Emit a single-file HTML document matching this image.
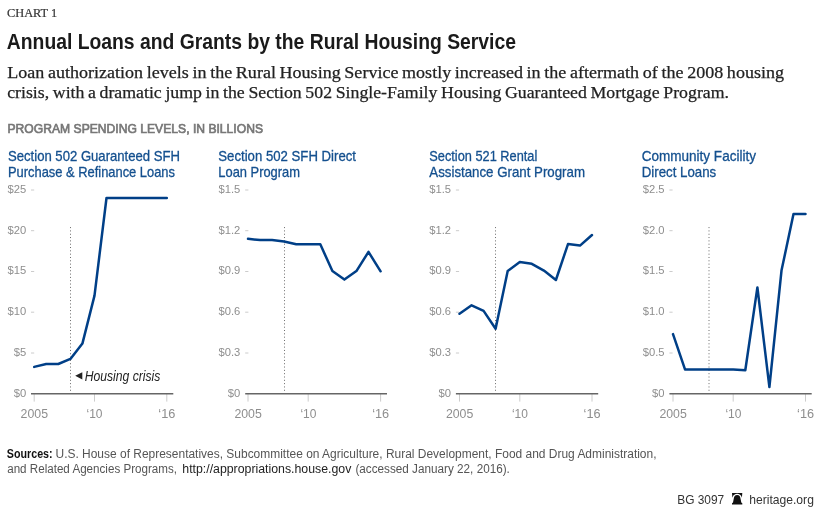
<!DOCTYPE html>
<html><head><meta charset="utf-8"><title>Chart 1</title>
<style>html,body{margin:0;padding:0;background:#fff}svg{display:block;will-change:transform}text{white-space:pre}</style>
</head><body>
<svg width="825" height="510" viewBox="0 0 825 510">
<rect width="825" height="510" fill="#ffffff"/>
<text x="7" y="17" font-family="'Liberation Serif', serif" font-size="12.8" fill="#333" stroke="#333" stroke-width="0.2" textLength="50.2" lengthAdjust="spacingAndGlyphs">CHART 1</text>
<text x="6.8" y="49" font-family="'Liberation Sans', sans-serif" font-size="21.5" fill="#1a1a1a" font-weight="bold" textLength="509.2" lengthAdjust="spacingAndGlyphs">Annual Loans and Grants by the Rural Housing Service</text>
<text x="7.2" y="78" font-family="'Liberation Serif', serif" font-size="17.4" fill="#222" word-spacing="-0.8" stroke="#222" stroke-width="0.25" textLength="776.8" lengthAdjust="spacingAndGlyphs">Loan authorization levels in the Rural Housing Service mostly increased in the aftermath of the 2008 housing</text>
<text x="7.2" y="98" font-family="'Liberation Serif', serif" font-size="17.4" fill="#222" word-spacing="-0.8" stroke="#222" stroke-width="0.25" textLength="721.8" lengthAdjust="spacingAndGlyphs">crisis, with a dramatic jump in the Section 502 Single-Family Housing Guaranteed Mortgage Program.</text>
<text x="7.5" y="133" font-family="'Liberation Sans', sans-serif" font-size="13.2" fill="#777" stroke="#777" stroke-width="0.7" textLength="255.5" lengthAdjust="spacingAndGlyphs">PROGRAM SPENDING LEVELS, IN BILLIONS</text>
<text x="8" y="161" font-family="'Liberation Sans', sans-serif" font-size="14.1" fill="#14508f" stroke="#14508f" stroke-width="0.3" textLength="172" lengthAdjust="spacingAndGlyphs">Section 502 Guaranteed SFH</text>
<text x="8" y="177" font-family="'Liberation Sans', sans-serif" font-size="14.1" fill="#14508f" stroke="#14508f" stroke-width="0.3" textLength="167" lengthAdjust="spacingAndGlyphs">Purchase &amp; Refinance Loans</text>
<text x="13.7" y="397" font-family="'Liberation Sans', sans-serif" font-size="11.8" fill="#8e8e8e" textLength="12.5" lengthAdjust="spacingAndGlyphs">$0</text>
<text x="13.7" y="356" font-family="'Liberation Sans', sans-serif" font-size="11.8" fill="#8e8e8e" textLength="12.5" lengthAdjust="spacingAndGlyphs">$5</text>
<line x1="31" y1="353.0" x2="34.2" y2="353.0" stroke="#cccccc" stroke-width="1"/>
<text x="7.5" y="315" font-family="'Liberation Sans', sans-serif" font-size="11.8" fill="#8e8e8e" textLength="18.7" lengthAdjust="spacingAndGlyphs">$10</text>
<line x1="31" y1="312.2" x2="34.2" y2="312.2" stroke="#cccccc" stroke-width="1"/>
<text x="7.5" y="274" font-family="'Liberation Sans', sans-serif" font-size="11.8" fill="#8e8e8e" textLength="18.7" lengthAdjust="spacingAndGlyphs">$15</text>
<line x1="31" y1="271.5" x2="34.2" y2="271.5" stroke="#cccccc" stroke-width="1"/>
<text x="7.5" y="234" font-family="'Liberation Sans', sans-serif" font-size="11.8" fill="#8e8e8e" textLength="18.7" lengthAdjust="spacingAndGlyphs">$20</text>
<line x1="31" y1="230.7" x2="34.2" y2="230.7" stroke="#cccccc" stroke-width="1"/>
<text x="7.5" y="193" font-family="'Liberation Sans', sans-serif" font-size="11.8" fill="#8e8e8e" textLength="18.7" lengthAdjust="spacingAndGlyphs">$25</text>
<line x1="31" y1="190.0" x2="34.2" y2="190.0" stroke="#cccccc" stroke-width="1"/>
<line x1="70.5" y1="227.1" x2="70.5" y2="393.7" stroke="#6a6a6a" stroke-width="1" stroke-dasharray="1 2.32"/>
<line x1="34.2" y1="393.7" x2="34.2" y2="401.6" stroke="#cccccc" stroke-width="1"/>
<text x="34.3" y="417.5" font-family="'Liberation Sans', sans-serif" font-size="13" fill="#8e8e8e" text-anchor="middle" textLength="27.4" lengthAdjust="spacingAndGlyphs">2005</text>
<line x1="94.5" y1="393.7" x2="94.5" y2="401.6" stroke="#cccccc" stroke-width="1"/>
<text x="94.5" y="417.5" font-family="'Liberation Sans', sans-serif" font-size="13" fill="#8e8e8e" text-anchor="middle" textLength="16" lengthAdjust="spacingAndGlyphs">‘10</text>
<line x1="166.8" y1="393.7" x2="166.8" y2="401.6" stroke="#cccccc" stroke-width="1"/>
<text x="166.8" y="417.5" font-family="'Liberation Sans', sans-serif" font-size="13" fill="#8e8e8e" text-anchor="middle" textLength="17" lengthAdjust="spacingAndGlyphs">‘16</text>
<line x1="31" y1="393.7" x2="173.3" y2="393.7" stroke="#666" stroke-width="1.5"/>
<polyline points="34.2,366.9 46.2,364 58.3,364 70.4,358.9 82.4,343.6 94.5,295.6 106.5,198 118.6,198 130.6,198 142.7,198 154.7,198 166.8,198" fill="none" stroke="#003f87" stroke-width="2.5" stroke-linejoin="round" stroke-linecap="round"/>
<text x="218.3" y="161" font-family="'Liberation Sans', sans-serif" font-size="14.1" fill="#14508f" stroke="#14508f" stroke-width="0.3" textLength="137.7" lengthAdjust="spacingAndGlyphs">Section 502 SFH Direct</text>
<text x="218.3" y="177" font-family="'Liberation Sans', sans-serif" font-size="14.1" fill="#14508f" stroke="#14508f" stroke-width="0.3" textLength="81.7" lengthAdjust="spacingAndGlyphs">Loan Program</text>
<text x="227.8" y="397" font-family="'Liberation Sans', sans-serif" font-size="11.8" fill="#8e8e8e" textLength="12.5" lengthAdjust="spacingAndGlyphs">$0</text>
<text x="218.5" y="356" font-family="'Liberation Sans', sans-serif" font-size="11.8" fill="#8e8e8e" textLength="21.8" lengthAdjust="spacingAndGlyphs">$0.3</text>
<line x1="245.2" y1="353.0" x2="248.4" y2="353.0" stroke="#cccccc" stroke-width="1"/>
<text x="218.5" y="315" font-family="'Liberation Sans', sans-serif" font-size="11.8" fill="#8e8e8e" textLength="21.8" lengthAdjust="spacingAndGlyphs">$0.6</text>
<line x1="245.2" y1="312.2" x2="248.4" y2="312.2" stroke="#cccccc" stroke-width="1"/>
<text x="218.5" y="274" font-family="'Liberation Sans', sans-serif" font-size="11.8" fill="#8e8e8e" textLength="21.8" lengthAdjust="spacingAndGlyphs">$0.9</text>
<line x1="245.2" y1="271.5" x2="248.4" y2="271.5" stroke="#cccccc" stroke-width="1"/>
<text x="218.5" y="234" font-family="'Liberation Sans', sans-serif" font-size="11.8" fill="#8e8e8e" textLength="21.8" lengthAdjust="spacingAndGlyphs">$1.2</text>
<line x1="245.2" y1="230.7" x2="248.4" y2="230.7" stroke="#cccccc" stroke-width="1"/>
<text x="218.5" y="193" font-family="'Liberation Sans', sans-serif" font-size="11.8" fill="#8e8e8e" textLength="21.8" lengthAdjust="spacingAndGlyphs">$1.5</text>
<line x1="245.2" y1="190.0" x2="248.4" y2="190.0" stroke="#cccccc" stroke-width="1"/>
<line x1="284.5" y1="227.1" x2="284.5" y2="393.7" stroke="#6a6a6a" stroke-width="1" stroke-dasharray="1 2.32"/>
<line x1="248.0" y1="393.7" x2="248.0" y2="401.6" stroke="#cccccc" stroke-width="1"/>
<text x="248.1" y="417.5" font-family="'Liberation Sans', sans-serif" font-size="13" fill="#8e8e8e" text-anchor="middle" textLength="27.4" lengthAdjust="spacingAndGlyphs">2005</text>
<line x1="308.2" y1="393.7" x2="308.2" y2="401.6" stroke="#cccccc" stroke-width="1"/>
<text x="308.4" y="417.5" font-family="'Liberation Sans', sans-serif" font-size="13" fill="#8e8e8e" text-anchor="middle" textLength="16" lengthAdjust="spacingAndGlyphs">‘10</text>
<line x1="380.6" y1="393.7" x2="380.6" y2="401.6" stroke="#cccccc" stroke-width="1"/>
<text x="380.7" y="417.5" font-family="'Liberation Sans', sans-serif" font-size="13" fill="#8e8e8e" text-anchor="middle" textLength="17" lengthAdjust="spacingAndGlyphs">‘16</text>
<line x1="245.2" y1="393.7" x2="387" y2="393.7" stroke="#666" stroke-width="1.5"/>
<polyline points="248.0,238.8 260.1,240.1 272.1,240.1 284.1,241.5 296.2,244.3 308.2,244.3 320.3,244.3 332.4,271.1 344.4,279.6 356.4,271.1 368.5,251.9 380.6,271.3" fill="none" stroke="#003f87" stroke-width="2.5" stroke-linejoin="round" stroke-linecap="round"/>
<text x="429.3" y="161" font-family="'Liberation Sans', sans-serif" font-size="14.1" fill="#14508f" stroke="#14508f" stroke-width="0.3" textLength="108" lengthAdjust="spacingAndGlyphs">Section 521 Rental</text>
<text x="429.3" y="177" font-family="'Liberation Sans', sans-serif" font-size="14.1" fill="#14508f" stroke="#14508f" stroke-width="0.3" textLength="155.7" lengthAdjust="spacingAndGlyphs">Assistance Grant Program</text>
<text x="438.5" y="397" font-family="'Liberation Sans', sans-serif" font-size="11.8" fill="#8e8e8e" textLength="12.5" lengthAdjust="spacingAndGlyphs">$0</text>
<text x="429.2" y="356" font-family="'Liberation Sans', sans-serif" font-size="11.8" fill="#8e8e8e" textLength="21.8" lengthAdjust="spacingAndGlyphs">$0.3</text>
<line x1="455.9" y1="353.0" x2="459.1" y2="353.0" stroke="#cccccc" stroke-width="1"/>
<text x="429.2" y="315" font-family="'Liberation Sans', sans-serif" font-size="11.8" fill="#8e8e8e" textLength="21.8" lengthAdjust="spacingAndGlyphs">$0.6</text>
<line x1="455.9" y1="312.2" x2="459.1" y2="312.2" stroke="#cccccc" stroke-width="1"/>
<text x="429.2" y="274" font-family="'Liberation Sans', sans-serif" font-size="11.8" fill="#8e8e8e" textLength="21.8" lengthAdjust="spacingAndGlyphs">$0.9</text>
<line x1="455.9" y1="271.5" x2="459.1" y2="271.5" stroke="#cccccc" stroke-width="1"/>
<text x="429.2" y="234" font-family="'Liberation Sans', sans-serif" font-size="11.8" fill="#8e8e8e" textLength="21.8" lengthAdjust="spacingAndGlyphs">$1.2</text>
<line x1="455.9" y1="230.7" x2="459.1" y2="230.7" stroke="#cccccc" stroke-width="1"/>
<text x="429.2" y="193" font-family="'Liberation Sans', sans-serif" font-size="11.8" fill="#8e8e8e" textLength="21.8" lengthAdjust="spacingAndGlyphs">$1.5</text>
<line x1="455.9" y1="190.0" x2="459.1" y2="190.0" stroke="#cccccc" stroke-width="1"/>
<line x1="495.5" y1="227.1" x2="495.5" y2="393.7" stroke="#6a6a6a" stroke-width="1" stroke-dasharray="1 2.32"/>
<line x1="459.5" y1="393.7" x2="459.5" y2="401.6" stroke="#cccccc" stroke-width="1"/>
<text x="459.6" y="417.5" font-family="'Liberation Sans', sans-serif" font-size="13" fill="#8e8e8e" text-anchor="middle" textLength="27.4" lengthAdjust="spacingAndGlyphs">2005</text>
<line x1="519.8" y1="393.7" x2="519.8" y2="401.6" stroke="#cccccc" stroke-width="1"/>
<text x="519.9" y="417.5" font-family="'Liberation Sans', sans-serif" font-size="13" fill="#8e8e8e" text-anchor="middle" textLength="16" lengthAdjust="spacingAndGlyphs">‘10</text>
<line x1="592.0" y1="393.7" x2="592.0" y2="401.6" stroke="#cccccc" stroke-width="1"/>
<text x="592.1" y="417.5" font-family="'Liberation Sans', sans-serif" font-size="13" fill="#8e8e8e" text-anchor="middle" textLength="17" lengthAdjust="spacingAndGlyphs">‘16</text>
<line x1="455.9" y1="393.7" x2="598.2" y2="393.7" stroke="#666" stroke-width="1.5"/>
<polyline points="459.5,313.8 471.6,305.3 483.6,310.9 495.6,328.8 507.7,270.9 519.8,262.1 531.8,263.8 543.9,270.6 555.9,280 568.0,244.1 580.0,245.6 592.0,235" fill="none" stroke="#003f87" stroke-width="2.5" stroke-linejoin="round" stroke-linecap="round"/>
<text x="641.7" y="161" font-family="'Liberation Sans', sans-serif" font-size="14.1" fill="#14508f" stroke="#14508f" stroke-width="0.3" textLength="114.3" lengthAdjust="spacingAndGlyphs">Community Facility</text>
<text x="641.7" y="177" font-family="'Liberation Sans', sans-serif" font-size="14.1" fill="#14508f" stroke="#14508f" stroke-width="0.3" textLength="74.5" lengthAdjust="spacingAndGlyphs">Direct Loans</text>
<text x="652.0" y="397" font-family="'Liberation Sans', sans-serif" font-size="11.8" fill="#8e8e8e" textLength="12.5" lengthAdjust="spacingAndGlyphs">$0</text>
<text x="642.7" y="356" font-family="'Liberation Sans', sans-serif" font-size="11.8" fill="#8e8e8e" textLength="21.8" lengthAdjust="spacingAndGlyphs">$0.5</text>
<line x1="669.4" y1="353.0" x2="672.6" y2="353.0" stroke="#cccccc" stroke-width="1"/>
<text x="642.7" y="315" font-family="'Liberation Sans', sans-serif" font-size="11.8" fill="#8e8e8e" textLength="21.8" lengthAdjust="spacingAndGlyphs">$1.0</text>
<line x1="669.4" y1="312.2" x2="672.6" y2="312.2" stroke="#cccccc" stroke-width="1"/>
<text x="642.7" y="274" font-family="'Liberation Sans', sans-serif" font-size="11.8" fill="#8e8e8e" textLength="21.8" lengthAdjust="spacingAndGlyphs">$1.5</text>
<line x1="669.4" y1="271.5" x2="672.6" y2="271.5" stroke="#cccccc" stroke-width="1"/>
<text x="642.7" y="234" font-family="'Liberation Sans', sans-serif" font-size="11.8" fill="#8e8e8e" textLength="21.8" lengthAdjust="spacingAndGlyphs">$2.0</text>
<line x1="669.4" y1="230.7" x2="672.6" y2="230.7" stroke="#cccccc" stroke-width="1"/>
<text x="642.7" y="193" font-family="'Liberation Sans', sans-serif" font-size="11.8" fill="#8e8e8e" textLength="21.8" lengthAdjust="spacingAndGlyphs">$2.5</text>
<line x1="669.4" y1="190.0" x2="672.6" y2="190.0" stroke="#cccccc" stroke-width="1"/>
<line x1="709" y1="227.1" x2="709" y2="393.7" stroke="#6a6a6a" stroke-width="1" stroke-dasharray="1 2.32"/>
<line x1="673.0" y1="393.7" x2="673.0" y2="401.6" stroke="#cccccc" stroke-width="1"/>
<text x="673.1" y="417.5" font-family="'Liberation Sans', sans-serif" font-size="13" fill="#8e8e8e" text-anchor="middle" textLength="27.4" lengthAdjust="spacingAndGlyphs">2005</text>
<line x1="733.2" y1="393.7" x2="733.2" y2="401.6" stroke="#cccccc" stroke-width="1"/>
<text x="733.4" y="417.5" font-family="'Liberation Sans', sans-serif" font-size="13" fill="#8e8e8e" text-anchor="middle" textLength="16" lengthAdjust="spacingAndGlyphs">‘10</text>
<line x1="805.5" y1="393.7" x2="805.5" y2="401.6" stroke="#cccccc" stroke-width="1"/>
<text x="805.6" y="417.5" font-family="'Liberation Sans', sans-serif" font-size="13" fill="#8e8e8e" text-anchor="middle" textLength="17" lengthAdjust="spacingAndGlyphs">‘16</text>
<line x1="669.4" y1="393.7" x2="811.7" y2="393.7" stroke="#666" stroke-width="1.5"/>
<polyline points="673.0,334.1 685.0,369.4 697.1,369.6 709.1,369.6 721.2,369.6 733.2,369.6 745.3,370.2 757.4,287.4 769.4,387.1 781.5,270.6 793.5,213.9 805.5,213.9" fill="none" stroke="#003f87" stroke-width="2.5" stroke-linejoin="round" stroke-linecap="round"/>
<polygon points="75.2,375.8 82.3,372.2 82.3,379.4" fill="#222"/>
<text x="84.7" y="380.6" font-family="'Liberation Sans', sans-serif" font-size="14.2" fill="#222" font-style="italic" textLength="75.7" lengthAdjust="spacingAndGlyphs">Housing crisis</text>
<text x="6.8" y="458" font-family="'Liberation Sans', sans-serif" font-size="12.3" fill="#111" font-weight="bold" textLength="45.8" lengthAdjust="spacingAndGlyphs">Sources:</text>
<text x="55.5" y="458" font-family="'Liberation Sans', sans-serif" font-size="12.3" fill="#555" textLength="601" lengthAdjust="spacingAndGlyphs">U.S. House of Representatives, Subcommittee on Agriculture, Rural Development, Food and Drug Administration,</text>
<text x="7.2" y="473" font-family="'Liberation Sans', sans-serif" font-size="12.3" fill="#555" textLength="169.8" lengthAdjust="spacingAndGlyphs">and Related Agencies Programs,</text>
<text x="182.3" y="473" font-family="'Liberation Sans', sans-serif" font-size="12.3" fill="#222" textLength="169" lengthAdjust="spacingAndGlyphs">http://appropriations.house.gov</text>
<text x="355.4" y="473" font-family="'Liberation Sans', sans-serif" font-size="12.3" fill="#555" textLength="154.5" lengthAdjust="spacingAndGlyphs">(accessed January 22, 2016).</text>
<text x="677.2" y="503.6" font-family="'Liberation Sans', sans-serif" font-size="13.5" fill="#333" textLength="47" lengthAdjust="spacingAndGlyphs">BG 3097</text>
<text x="749.2" y="503.6" font-family="'Liberation Sans', sans-serif" font-size="13.5" fill="#333" textLength="64.7" lengthAdjust="spacingAndGlyphs">heritage.org</text>
<g fill="#111"><path d="M732,493.1 H742.3 L741.9,497.7 C741.2,494.9 739.2,493.8 737.15,493.8 C735.1,493.8 733.1,494.9 732.4,497.7 Z"/><path d="M737.15,495.1 C739.4,495.1 740.3,496.7 740.5,498.6 L741.3,502.6 L742.3,503.3 V504.4 H732 V503.3 L733,502.6 L733.8,498.6 C734,496.7 734.9,495.1 737.15,495.1 Z"/></g>
</svg>
</body></html>
